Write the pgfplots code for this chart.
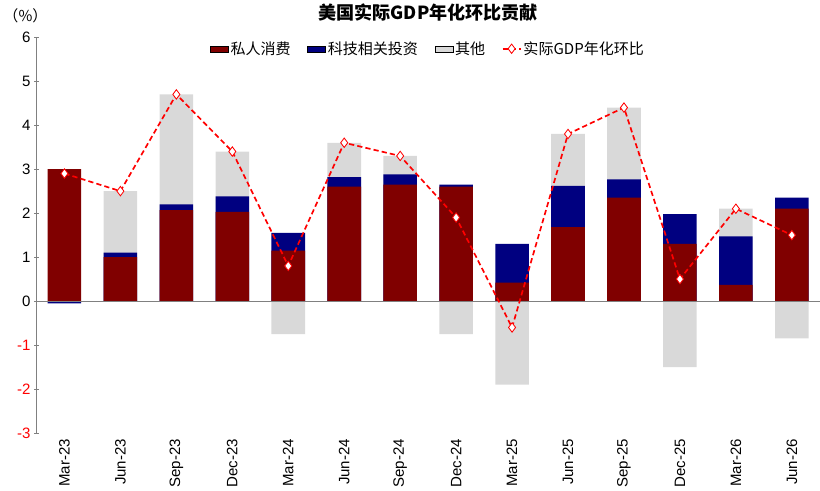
\documentclass[border=0pt]{standalone}
\usepackage{pgfplots}
\pgfplotsset{compat=1.18}
\usepackage{fontspec}
\setmainfont{Liberation Sans}
\newfontfamily\cjk{Noto Sans CJK SC}
\definecolor{pc}{RGB}{128,0,0}
\definecolor{tc}{RGB}{0,0,128}
\definecolor{oc}{RGB}{217,217,217}
\begin{document}
\begin{tikzpicture}
\begin{axis}[
  scale only axis, width=750pt, height=379pt,
  ymin=-3, ymax=6, ytick={-3,...,6},
  yticklabels={\textcolor{red}{-3},\textcolor{red}{-2},\textcolor{red}{-1},0,1,2,3,4,5,6},
  xmin=-0.5, xmax=13.5,
  xtick={0,...,13},
  xticklabels={Mar-23,Jun-23,Sep-23,Dec-23,Mar-24,Jun-24,Sep-24,Dec-24,Mar-25,Jun-25,Sep-25,Dec-25,Mar-26,Jun-26},
  xticklabel style={rotate=90,anchor=east,font=\Large},
  yticklabel style={font=\Large},
  axis x line=bottom, axis y line=left,
  x axis line style={draw=none},
  y axis line style={-, black!50}, ytick style={black!50},
  xtick style={draw=none},
  clip=false,
  legend style={draw=none, fill=none, at={(0.5,1.0)}, anchor=north, legend columns=4, font=\cjk\Large, /tikz/every even column/.append style={column sep=14pt}},
  legend cell align=left,
  title={\cjk\bfseries\LARGE 美国实际GDP年化环比贡献},
  title style={yshift=6pt},
]
\addlegendimage{area legend, fill=pc, draw=none}
\addlegendentry{私人消费}
\addlegendimage{area legend, fill=tc, draw=none}
\addlegendentry{科技相关投资}
\addlegendimage{area legend, fill=oc, draw=none}
\addlegendentry{其他}
\addlegendimage{red, line width=1.6pt, dash pattern=on 5pt off 3pt, mark=diamond*, mark size=4.5pt, mark options={solid, fill=white, draw=red, line width=0.8pt}}
\addlegendentry{实际GDP年化环比}
\addplot[ybar, bar width=0.6, bar shift=0pt, fill=oc, draw=none, forget plot] coordinates {
(0,0)(1,2.5)(2,4.7)(3,3.4)(4,-0.75)(5,3.6)(6,3.3)(7,-0.75)(8,-1.9)(9,3.8)(10,4.4)(11,-1.5)(12,2.1)(13,-0.85)};
\addplot[ybar, bar width=0.6, bar shift=0pt, fill=tc, draw=none, forget plot] coordinates {
(0,-0.05)(1,1.1)(2,2.2)(3,2.38)(4,1.55)(5,2.82)(6,2.88)(7,2.65)(8,1.3)(9,2.62)(10,2.77)(11,1.98)(12,1.47)(13,2.35)};
\addplot[ybar, bar width=0.6, bar shift=0pt, fill=pc, draw=none, forget plot] coordinates {
(0,3.0)(1,1.0)(2,2.07)(3,2.03)(4,1.15)(5,2.6)(6,2.65)(7,2.6)(8,0.42)(9,1.68)(10,2.35)(11,1.3)(12,0.37)(13,2.1)};
\draw[black!50] (axis cs:-0.5,0) -- (axis cs:13.5,0);
\addplot[red, line width=1.6pt, dash pattern=on 5pt off 3pt, mark=diamond*, mark size=4.5pt, mark options={solid, fill=white, draw=red, line width=0.8pt}, forget plot] coordinates {
(0,2.9)(1,2.5)(2,4.7)(3,3.4)(4,0.8)(5,3.6)(6,3.3)(7,1.9)(8,-0.6)(9,3.8)(10,4.4)(11,0.5)(12,2.1)(13,1.5)};
\node[anchor=south east, font=\cjk\Large] at ([xshift=14pt,yshift=10pt]rel axis cs:0,1) {（\%）};
\end{axis}
\end{tikzpicture}
\end{document}
